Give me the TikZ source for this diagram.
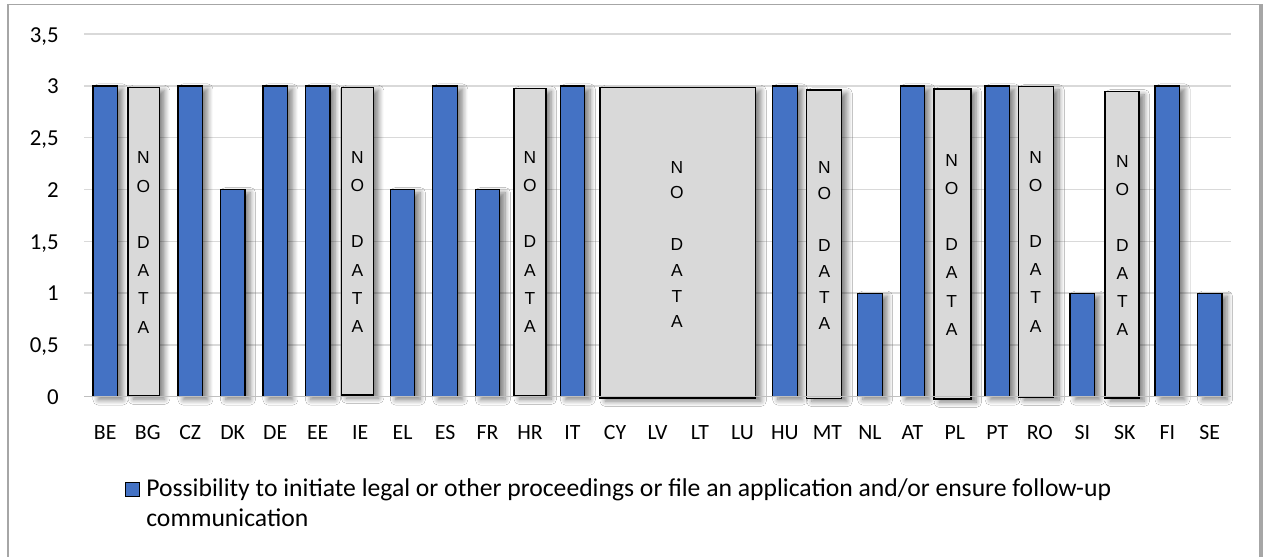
\documentclass[tikz,border=0pt]{standalone}
\usepackage{fontspec}
\setmainfont{Carlito}
\newfontfamily\arialf{Liberation Sans}
\usetikzlibrary{shadows.blur}
\definecolor{barblue}{HTML}{4472C4}
\definecolor{ndgray}{HTML}{D9D9D9}
\definecolor{gridgray}{HTML}{D9D9D9}
\definecolor{axisgray}{HTML}{BFBFBF}
\definecolor{framegray}{HTML}{A6A6A6}
\newcommand\ndbox[8]{%
  \draw[ndstyle] (#2,#3) rectangle (#4,#5);
  \node[ndtext, font=\arialf\fontsize{9.9}{#8}\selectfont] (#1) at (#6,#7) {N\\O\\~\\D\\A\\T\\A};
}
\begin{document}
\begin{tikzpicture}[x=0.02cm,y=-0.02cm,
  shadowed/.style={blur shadow={shadow xshift=3pt, shadow yshift=-1.8pt, shadow blur radius=3pt, shadow blur steps=8, shadow opacity=50}},
  barstyle/.style={fill=barblue, draw=black, line width=0.7pt, shadowed},
  ndstyle/.style={fill=ndgray, draw=black, line width=0.7pt, shadowed},
  ndtext/.style={inner sep=0pt, align=center, text=black},
  grid/.style={draw=gridgray, line width=0.8pt},
  axisline/.style={draw=axisgray, line width=0.9pt},
  ylab/.style={anchor=base east, inner sep=0pt, font=\fontsize{13}{15}\selectfont},
  catlab/.style={anchor=base, inner sep=0pt, font=\fontsize{12.4}{15}\selectfont},
  legtext/.style={anchor=base west, inner sep=0pt, font=\fontsize{14.6}{17}\selectfont},
  frame/.style={draw=framegray}]
\useasboundingbox (0,0) rectangle (1263,557);
\fill[white] (0,0) rectangle (1263,557);
% frame
\draw[frame, line width=1.1pt] (8,560) -- (8,4.5) -- (1261,4.5);
\draw[frame, line width=2.2pt] (1261,4.5) -- (1261,560);
% gridlines
\foreach \v in {0.5,1,1.5,2,2.5,3,3.5}
  \draw[grid] (84,{396.7-\v*103.57}) -- (1231,{396.7-\v*103.57});
% y labels
\foreach \v/\t [count=\k] in {0/0,0.5/{0,5},1/1,1.5/{1,5},2/2,2.5/{2,5},3/3,3.5/{3,5}}
  \node[ylab] (ylab\k) at (59,{396.7-\v*103.57+7.8}) {\t};
% blue bars
\foreach \i/\v in {0/3,2/3,3/2,4/3,5/3,7/2,8/3,9/2,11/3,16/3,18/1,19/3,21/3,23/1,25/3,26/1}
  \draw[barstyle] ({84+(\i+0.5)*42.48-12.25},{396.7-\v*103.57}) rectangle ({84+(\i+0.5)*42.48+12.25},396.7);
% no data boxes
\ndbox{ndBG}{128}{87.3}{159.3}{396}{143.5}{242.5}{16.05}
\ndbox{ndIE}{341.3}{87.3}{373.3}{395}{357.3}{241.9}{16.1}
\ndbox{ndHR}{514}{88.3}{546}{396}{530}{242}{16.05}
\ndbox{ndCY}{600}{87.3}{755.7}{398}{677}{244.5}{14.7}
\ndbox{ndMT}{806.7}{90}{841.7}{398.3}{824.3}{245.9}{14.8}
\ndbox{ndPL}{934}{89}{971}{399}{951.7}{244.7}{16.05}
\ndbox{ndRO}{1018.7}{86.7}{1053.7}{397}{1035.7}{241.7}{16}
\ndbox{ndSK}{1105}{91.7}{1139}{398}{1122.3}{245.5}{15.9}
% axis line
\draw[axisline] (84,396.7) -- (1231,396.7);
% category labels
\foreach \lab [count=\i from 0] in {BE,BG,CZ,DK,DE,EE,IE,EL,ES,FR,HR,IT,CY,LV,LT,LU,HU,MT,NL,AT,PL,PT,RO,SI,SK,FI,SE}
  \node[catlab] (cat\i) at ({84+(\i+0.5)*42.48},439) {\lab};
% legend
\node[draw=black, fill=barblue, line width=0.5pt, minimum size=0.28cm, inner sep=0pt] (legkey) at (132,489.5) {};
\node[legtext] (leg1) at (146,496.7) {Possibility to initiate legal or other proceedings or file an application and/or ensure follow-up};
\node[legtext] (leg2) at (146,526) {communication};
\end{tikzpicture}
\end{document}
